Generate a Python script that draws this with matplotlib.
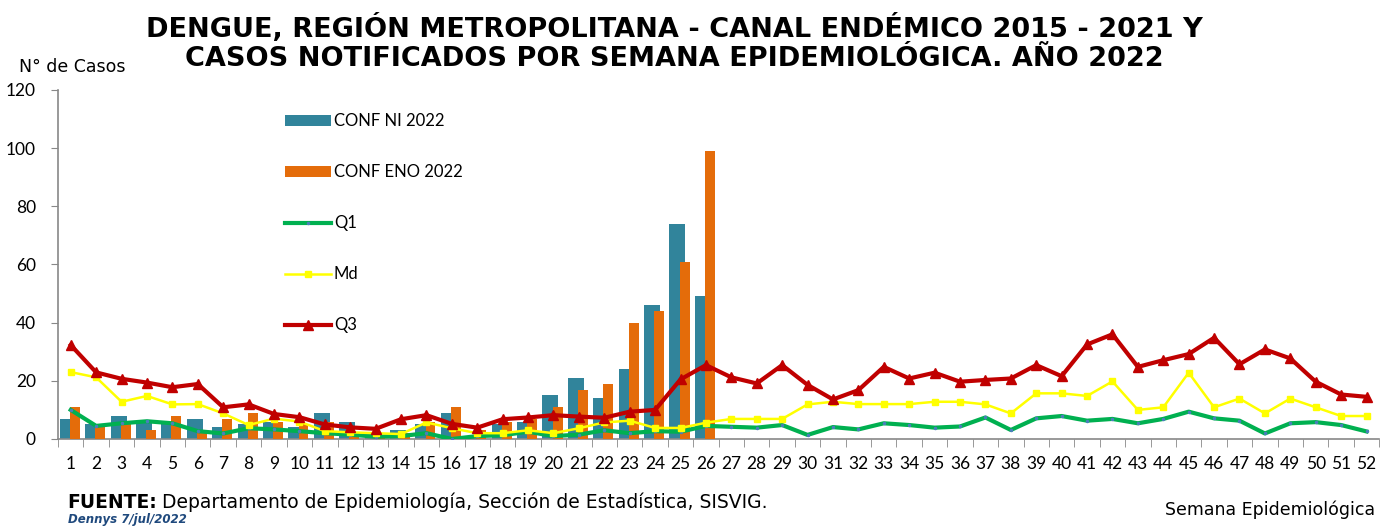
import numpy as np
import matplotlib
matplotlib.use('Agg')
import matplotlib.pyplot as plt
from matplotlib.ticker import FixedLocator, NullFormatter
from matplotlib.transforms import offset_copy

# data
weeks = np.arange(1, 53)
bar_weeks = np.arange(1, 27)
conf_ni = [7, 5, 8, 6, 5, 7, 4, 5, 6, 4, 9, 6, 2, 3, 5, 9, 1, 5, 6, 15, 21, 14, 24, 46, 74, 49]
conf_eno = [11, 4, 5, 3, 8, 2, 7, 9, 6, 5, 6, 2, 1, 2, 6, 11, 3, 6, 7, 11, 17, 19, 40, 44, 61, 99]
q1 = [10, 4.5, 5.4, 6.1, 5.4, 2.7, 1.9, 3.7, 3.3, 2.7, 2, 1.5, 0.8, 1, 2, 0, 1, 1.3, 2.5, 1,
      1.5, 3, 2, 2.7, 2.5, 4.5, 4.2, 3.9, 4.8, 1.4, 4.1, 3.3, 5.4, 4.8, 3.9, 4.3, 7.4, 3.1, 7.1, 7.9,
      6.3, 6.9, 5.4, 6.9, 9.4, 7.1, 6.3, 1.9, 5.4, 5.8, 4.8, 2.6]
md = [23, 21.2, 12.8, 14.8, 11.9, 12, 8.8, 4.8, 7, 6, 2.7, 2.3, 2, 1.7, 5.7, 3.7, 2, 2, 3, 2,
      3.7, 5.7, 6.3, 3.8, 3.8, 5.6, 6.9, 6.9, 6.9, 11.9, 12.8, 12, 12, 12, 12.8, 12.8, 11.9, 8.8, 15.7, 15.7,
      14.8, 19.8, 10, 10.9, 22.8, 10.9, 13.9, 8.8, 13.9, 10.9, 7.9, 7.9]
q3 = [32.3, 22.9, 20.7, 19.4, 17.8, 18.9, 10.9, 11.9, 8.6, 7.5, 5, 4, 3.5, 6.8, 8.2, 5.2, 3.9, 6.8, 7.4, 8.2,
      7.7, 7.3, 9.4, 10, 20.5, 25.4, 21.2, 19.1, 25.4, 18.6, 13.6, 16.8, 24.8, 20.8, 22.8, 19.7, 20.3, 20.8, 25.4, 21.6,
      32.5, 36, 24.8, 27.1, 29.2, 34.8, 25.7, 30.8, 27.7, 19.7, 15.3, 14.5]

blue = '#31849B'
orange = '#E46C0A'
green = '#00B050'
yellow = '#FFFF00'
red = '#C00000'
body_font = ['Lato', 'DejaVu Sans']
wide_font = ['DejaVu Sans']

fig = plt.figure(figsize=(13.82, 5.26), dpi=100)
ax = fig.add_axes([0.042, 0.1654, 0.956, 0.6635])

b1 = ax.bar(bar_weeks - 0.12, conf_ni, width=0.63, color=blue, label='CONF NI 2022', zorder=2)
b2 = ax.bar(bar_weeks + 0.16, conf_eno, width=0.39, color=orange, label='CONF ENO 2022', zorder=3)
l1, = ax.plot(weeks, q1, color=green, lw=3, marker='.', ms=3, mfc='#4a7ebb', mec='#4a7ebb', label='Q1', zorder=4)
l2, = ax.plot(weeks, md, color=yellow, lw=1.8, marker='s', ms=4, label='Md', zorder=5)
l3, = ax.plot(weeks, q3, color=red, lw=3, marker='^', ms=7, label='Q3', zorder=6)

ax.set_xlim(0.5, 52.5)
ax.set_ylim(0, 120)
ax.set_yticks(np.arange(0, 121, 20))
ax.set_xticks(weeks)
ax.xaxis.set_minor_locator(FixedLocator(np.arange(0.5, 53, 1)))
ax.xaxis.set_minor_formatter(NullFormatter())
ax.tick_params(axis='x', which='major', length=0, pad=12)
ax.tick_params(axis='x', which='minor', length=6, color='#888888', direction='out')
ax.tick_params(axis='y', length=5, color='#888888', direction='out', pad=11)
for lab in ax.get_xticklabels() + ax.get_yticklabels():
    lab.set_family(body_font)
    lab.set_fontsize(12.5)
for s in ['top', 'right']:
    ax.spines[s].set_visible(False)
for s in ['left', 'bottom']:
    ax.spines[s].set_color('#888888')
    ax.spines[s].set_linewidth(1.2)

ax.legend([b1, b2, l1, l2, l3], ['CONF NI 2022', 'CONF ENO 2022', 'Q1', 'Md', 'Q3'],
          loc='upper left', bbox_to_anchor=(0.1665, 0.952), frameon=False,
          prop={'family': body_font, 'size': 12}, labelspacing=2.1,
          handlelength=2.8, handletextpad=0.15, borderaxespad=0)

fig.text(0.488, 0.918, 'DENGUE, REGIÓN METROPOLITANA - CANAL ENDÉMICO 2015 - 2021 Y\n'
         'CASOS NOTIFICADOS POR SEMANA EPIDEMIOLÓGICA. AÑO 2022',
         ha='center', va='center', family=wide_font,
         weight='bold', fontsize=19.5, linespacing=1.15)
fig.text(0.014, 0.872, 'N° de Casos', family=wide_font, fontsize=12.5, va='center')

fuente = fig.text(0.049, 0.0342, 'FUENTE:', family=wide_font, fontsize=13.5, weight='bold', va='baseline')
fig.canvas.draw()
fw = fuente.get_window_extent().width
fig.text(0.049, 0.0342, 'Departamento de Epidemiología, Sección de Estadística, SISVIG.',
         family=wide_font, fontsize=13.5, va='baseline',
         transform=offset_copy(fig.transFigure, fig=fig, x=fw + 5, y=0, units='dots'))
fig.text(0.049, 0.0048, 'Dennys 7/jul/2022', family=wide_font, fontsize=8.5, weight='bold',
         style='italic', color='#1F497D', va='baseline')
fig.text(0.995, 0.030, 'Semana Epidemiológica', family=wide_font, fontsize=12.5,
         ha='right', va='center')

fig.savefig('out.png', dpi=100)
